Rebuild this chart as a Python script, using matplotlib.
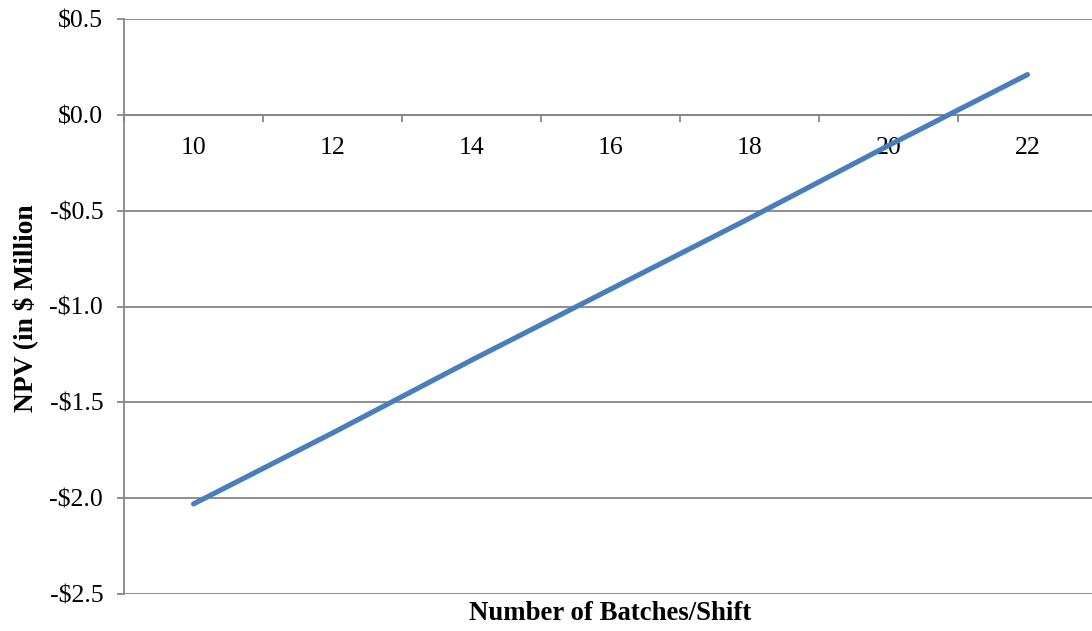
import matplotlib
matplotlib.use("Agg")
import matplotlib.pyplot as plt
import numpy as np

batches = [10, 12, 14, 16, 18, 20, 22]
npv = [-2.03, -1.66, -1.28, -0.91, -0.54, -0.16, 0.21]
y_ticks = [-2.5, -2.0, -1.5, -1.0, -0.5, 0.0, 0.5]
y_tick_labels = ["-$2.5", "-$2.0", "-$1.5", "-$1.0", "-$0.5", "$0.0", "$0.5"]

W, H = 1092, 631
plt.rcParams['font.family'] = ['Liberation Serif', 'DejaVu Serif']
fig = plt.figure(figsize=(W / 100, H / 100), dpi=100)

left, right, top, bottom = 124, 1097, 19, 594
ax = fig.add_axes([left / W, 1 - bottom / H, (right - left) / W, (bottom - top) / H])

grid_c = "#868686"
x = np.arange(len(batches))
ax.plot(x, npv, color="#4A7EBB", lw=3.7, solid_capstyle="round", zorder=3)

ax.set_xlim(-0.5, len(batches) - 0.5)
ax.set_ylim(-2.5, 0.5)
ax.set_yticks(y_ticks)
ax.set_yticklabels(y_tick_labels)
ax.yaxis.grid(True, color=grid_c, lw=1.3)
ax.set_axisbelow(True)

ax.set_xticks(x)
ax.set_xticklabels([str(b) for b in batches])
ax.set_xticks(np.arange(len(batches) + 1) - 0.5, minor=True)
ax.tick_params(axis='x', which='major', length=0, pad=16, labelsize=18.5)
ax.tick_params(axis='x', which='minor', length=5, width=1.3, color=grid_c, direction='out')
ax.tick_params(axis='y', which='major', length=5, width=1.3, color=grid_c, pad=10, labelsize=18.5)

for s in ['top', 'right']:
    ax.spines[s].set_visible(False)
ax.spines['left'].set_color(grid_c)
ax.spines['left'].set_linewidth(1.3)
ax.spines['bottom'].set_position(('data', 0))
ax.spines['bottom'].set_color(grid_c)
ax.spines['bottom'].set_linewidth(1.3)

fig.text(610 / W, 1 - 613 / H, "Number of Batches/Shift", ha='center', va='center',
         fontsize=19.3, fontweight='bold')
fig.text(25 / W, 1 - 308 / H, "NPV (in $ Million", ha='center', va='center',
         fontsize=19.8, fontweight='bold', rotation=90)

fig.savefig("out.png", dpi=100)
